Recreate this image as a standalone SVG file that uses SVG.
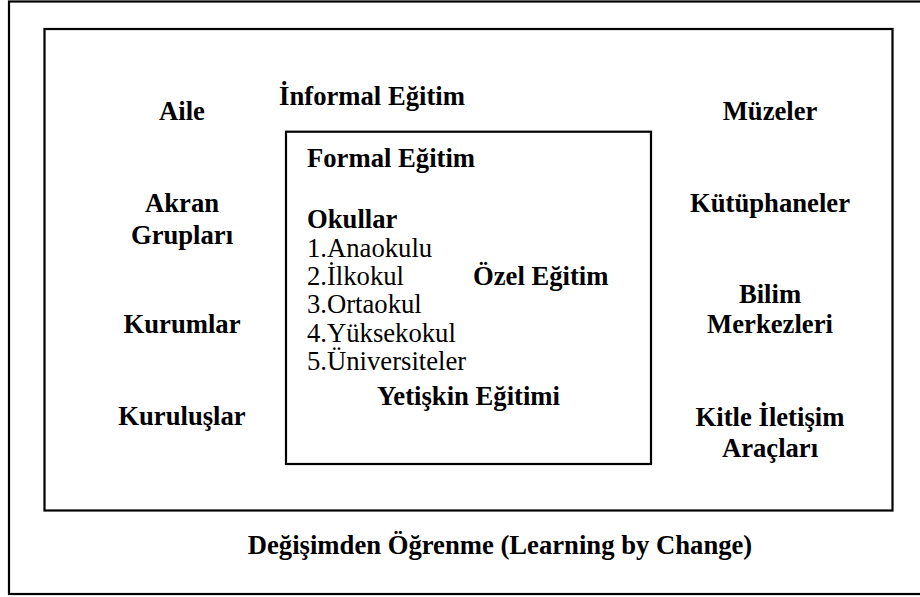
<svg xmlns="http://www.w3.org/2000/svg" width="920" height="597" viewBox="0 0 920 597">
<style>
.frame{fill:none;stroke:#000;stroke-width:2.2}
.b{font-family:"Liberation Serif","Times New Roman",serif;font-size:26.67px;font-weight:bold;fill:#000}
.r{font-family:"Liberation Serif","Times New Roman",serif;font-size:26.67px;fill:#000}
.m{text-anchor:middle}
</style>
<rect x="0" y="0" width="920" height="597" fill="#fff"/>
<g id="outer"><rect class="frame" x="9" y="1.5" width="920" height="592.5"/>
<text class="b m" x="500" y="554">Değişimden Öğrenme (Learning by Change)</text></g>
<g id="informal"><rect class="frame" x="44.5" y="29" width="848" height="481.5"/>
<text class="b m" x="372" y="105">İnformal Eğitim</text></g>
<g id="aile"><text class="b m" x="182" y="120">Aile</text></g>
<g id="akran"><text class="b m" x="182" y="212">Akran</text><text class="b m" x="182" y="244">Grupları</text></g>
<g id="kurumlar"><text class="b m" x="182" y="333">Kurumlar</text></g>
<g id="kuruluslar"><text class="b m" x="182" y="425">Kuruluşlar</text></g>
<g id="muzeler"><text class="b m" x="770" y="120">Müzeler</text></g>
<g id="kutuphaneler"><text class="b m" x="770" y="212">Kütüphaneler</text></g>
<g id="bilim"><text class="b m" x="770" y="303">Bilim</text><text class="b m" x="770" y="333">Merkezleri</text></g>
<g id="kitle"><text class="b m" x="770" y="426">Kitle İletişim</text><text class="b m" x="770" y="457">Araçları</text></g>
<g id="formal"><rect class="frame" x="286" y="131.7" width="365" height="332.3"/>
<text class="b" x="307" y="166.7">Formal Eğitim</text>
<text class="b" x="307" y="228.3">Okullar</text>
<text class="r" x="307" y="256.7">1.Anaokulu</text>
<text class="r" x="307" y="285">2.İlkokul</text>
<text class="r" x="307" y="313.3">3.Ortaokul</text>
<text class="r" x="307" y="341.7">4.Yüksekokul</text>
<text class="r" x="307" y="370">5.Üniversiteler</text>
<text class="b" x="473" y="285">Özel Eğitim</text>
<text class="b m" x="468.5" y="405">Yetişkin Eğitimi</text></g>
<g id="connectors"></g>
</svg>
